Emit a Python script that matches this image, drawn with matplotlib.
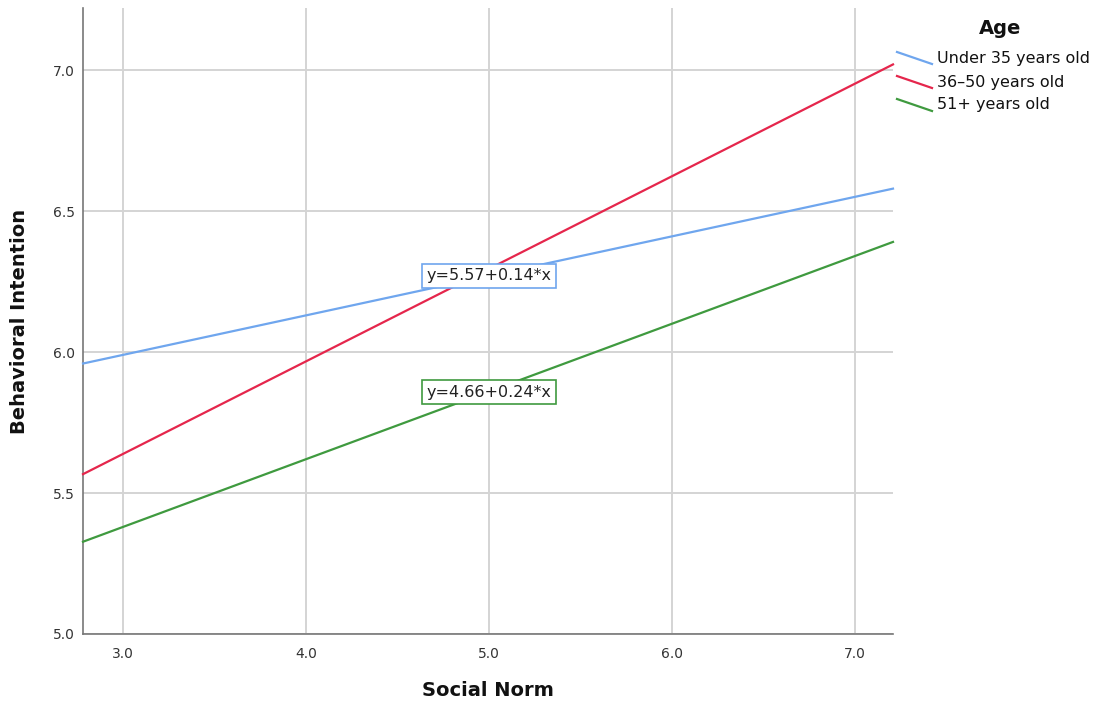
import matplotlib
matplotlib.use("Agg")
import matplotlib.pyplot as plt
from matplotlib.lines import Line2D
import numpy as np

# Data
groups = ["Under 35 years old", "36–50 years old", "51+ years old"]
intercepts = [5.57, 4.655, 4.66]
slopes = [0.14, 0.328, 0.24]
colors = ["#6fa6ee", "#e5264c", "#3f9a3f"]
x_range = [2.78, 7.21]
xticks = [3.0, 4.0, 5.0, 6.0, 7.0]
yticks = [5.0, 5.5, 6.0, 6.5, 7.0]
eq_labels = ["y=5.57+0.14*x", None, "y=4.66+0.24*x"]
eq_pos = [(5.0, 6.27), None, (5.0, 5.858)]

plt.rcParams['font.family'] = ['DejaVu Sans']
fig = plt.figure(figsize=(11.16, 7.04), dpi=100)
ax = fig.add_axes([83/1116, 1-634/704, (893-83)/1116, (634-8)/704])

xs = np.array(x_range)
for b0, b1, c in zip(intercepts, slopes, colors):
    ax.plot(xs, b0 + b1*xs, color=c, lw=1.6, zorder=3, clip_on=False)

for lab, pos, c in zip(eq_labels, eq_pos, colors):
    if lab:
        ax.text(pos[0], pos[1], lab, ha='center', va='center', fontsize=11.5, color='#222222',
                zorder=5, bbox=dict(boxstyle='square,pad=0.3', fc='white', ec=c, lw=1.2))

ax.set_xlim(x_range)
ax.set_ylim(5.0, 7.22)
ax.set_xticks(xticks)
ax.set_yticks(yticks)
ax.set_xticklabels([f"{v:.1f}" for v in xticks])
ax.set_yticklabels([f"{v:.1f}" for v in yticks])
ax.grid(True, color='#d4d4d4', lw=1.4, zorder=0)
ax.set_axisbelow(True)
for s in ['top', 'right']:
    ax.spines[s].set_visible(False)
for s in ['left', 'bottom']:
    ax.spines[s].set_color('#777777')
    ax.spines[s].set_linewidth(1.2)
ax.tick_params(length=0, labelsize=10, colors='#333333', pad=9)
ax.tick_params(axis='y', pad=6)
ax.set_xlabel("Social Norm", fontsize=14, fontweight='bold', color='#111111', va='center')
ax.set_ylabel("Behavioral Intention", fontsize=14, fontweight='bold', color='#111111', va='center')
ax.xaxis.set_label_coords(0.5, -(691-634)/626)
ax.yaxis.set_label_coords(-(83-20)/810, 0.5)

# Legend (custom, with slanted handles)
fig.text(1000/1116, 1-28/704, "Age", ha='center', va='center', fontsize=14, fontweight='bold', color='#111111')
ys_leg = [58, 82, 105]
for g, c, yy in zip(groups, colors, ys_leg):
    fig.add_artist(Line2D([897/1116, 932/1116], [1-(yy-6)/704, 1-(yy+6)/704], color=c, lw=1.6))
    fig.text(937/1116, 1-yy/704, g, ha='left', va='center', fontsize=11.5, color='#111111')

fig.savefig("out.png", dpi=100)
